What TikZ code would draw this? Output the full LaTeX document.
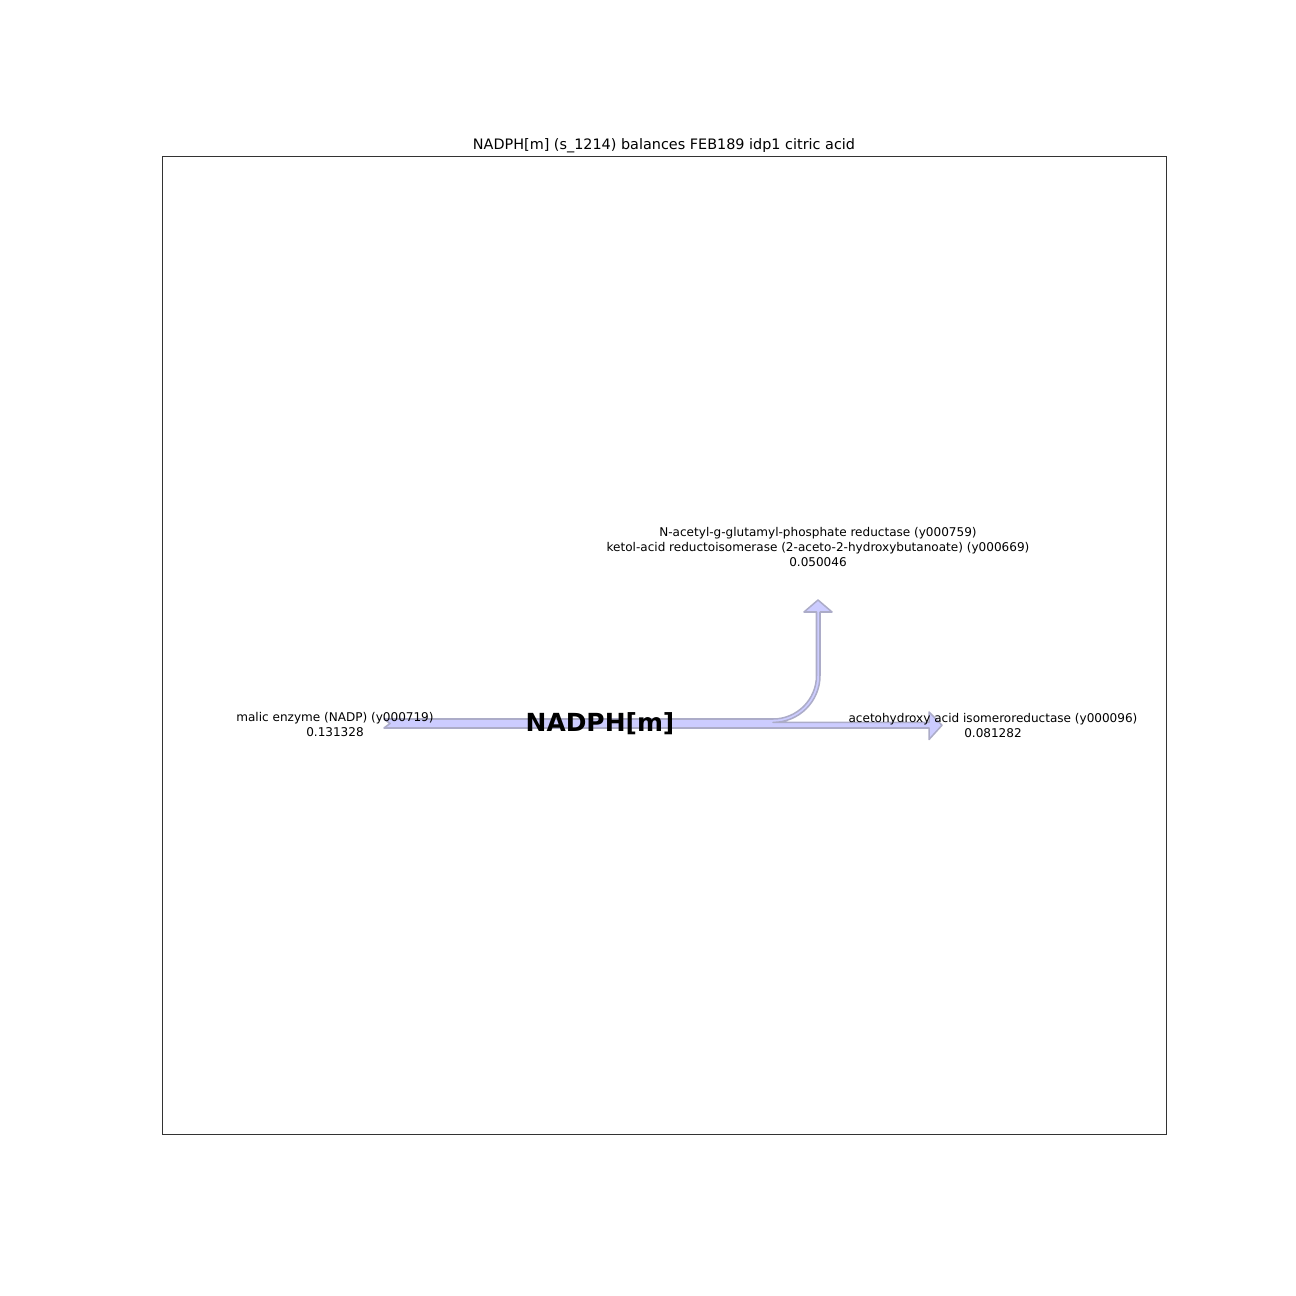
\documentclass[tikz,border=0pt]{standalone}
\usepackage{fontspec}
\setmainfont{DejaVu Sans}
\tikzset{
	flowband/.style={fill={rgb,255:red,204;green,204;blue,255}, draw={rgb,255:red,172;green,172;blue,200}, line width=1.1pt, line join=round},
	flowlabel/.style={align=center, font=\fontsize{8.7}{10.8}\selectfont, inner sep=0pt},
}
\begin{document}
\begin{tikzpicture}[x=0.01in, y=-0.01in]
		\useasboundingbox (0,0) rectangle (1296,1296);
		\draw[line width=0.6pt, black!80] (162,156) rectangle (1166,1134);
		\node[inner sep=0pt, font=\fontsize{10.4}{12}\selectfont] (title) at (664,146) {NADPH[m] (s\_1214) balances FEB189 idp1 citric acid};
		% sankey flows
		\draw[flowband] (384,719) -- (773,719) .. controls (797,719) and (816.5,699.5) .. (816.5,675.5) -- (816.5,612) -- (804,612) -- (818,600) -- (832,612) -- (820,612) -- (820,675.5) .. controls (820,701.4) and (799,722.4) .. (773,722.4) -- (929,722.4) -- (929,712) -- (942,725.2) -- (929,739.5) -- (929,728) -- (384,728) -- (390,723.5) -- cycle;
		\node[flowlabel] (malic) at (335,724.5) {malic enzyme (NADP) (y000719)\\0.131328};
		\node[flowlabel] (reductase) at (818,547) {N-acetyl-g-glutamyl-phosphate reductase (y000759)\\ketol-acid reductoisomerase (2-aceto-2-hydroxybutanoate) (y000669)\\0.050046};
		\node[flowlabel] (aceto) at (993,725.5) {acetohydroxy acid isomeroreductase (y000096)\\0.081282};
		\node[inner sep=0pt, font=\fontsize{18}{20}\selectfont\bfseries] (nadph) at (600,724) {NADPH[m]};
	\end{tikzpicture}
\end{document}
